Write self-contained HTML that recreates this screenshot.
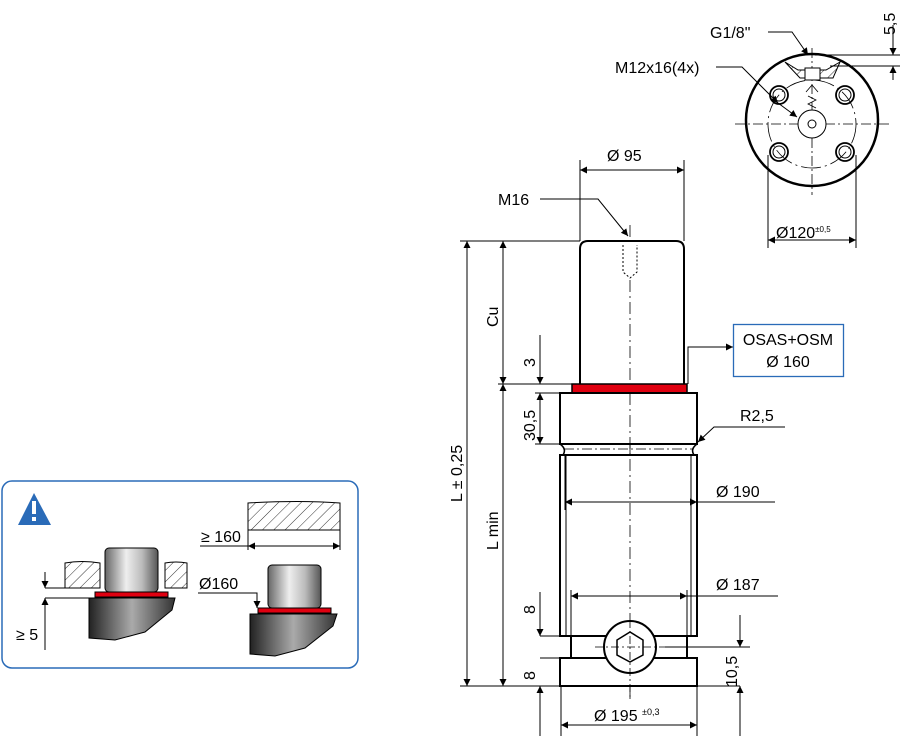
<!DOCTYPE html>
<html><head><meta charset="utf-8"><style>
html,body{margin:0;padding:0;background:#fff;}
svg{display:block;font-family:"Liberation Sans",sans-serif;}
</style></head><body>
<svg width="900" height="736" viewBox="0 0 900 736" xmlns="http://www.w3.org/2000/svg">
<defs>
<marker id="a" viewBox="0 0 10 10" refX="10" refY="5" markerWidth="10" markerHeight="7" orient="auto-start-reverse" markerUnits="userSpaceOnUse"><path d="M0,0 L10,5 L0,10z" fill="#000"/></marker>
<linearGradient id="g1" x1="0" x2="1"><stop offset="0" stop-color="#666"/><stop offset=".4" stop-color="#eee"/><stop offset=".7" stop-color="#bbb"/><stop offset="1" stop-color="#555"/></linearGradient>
<linearGradient id="g2" x1="0" x2="1"><stop offset="0" stop-color="#222"/><stop offset=".5" stop-color="#aaa"/><stop offset="1" stop-color="#333"/></linearGradient>
<pattern id="h" width="8" height="8" patternUnits="userSpaceOnUse" patternTransform="rotate(45)"><line x1="0" y1="0" x2="0" y2="8" stroke="#000" stroke-width="0.8"/></pattern>
</defs>
<g fill="none" stroke="#000" stroke-width="1">
<line x1="630" y1="225" x2="630" y2="700" stroke-dasharray="12,4,2,4" stroke-width="0.8"/>
<path d="M580,384 V249 Q580,241 588,241 H676 Q684,241 684,249 V384" stroke-width="2" fill="#fff"/>
<line x1="630" y1="280" x2="630" y2="384" stroke-dasharray="12,4,2,4" stroke-width="0.8"/>
<path d="M623,245 V272 L630,278 L637,272 V245" stroke-dasharray="2,2"/>
<rect x="572" y="384" width="115" height="9" fill="#e00010" stroke-width="1.5"/>
<rect x="560" y="393" width="137" height="51" stroke-width="2" fill="#fff"/>
<path d="M560,444 Q567,449 563,455 M697,444 Q690,449 694,455" stroke-width="1.5"/>
<line x1="564" y1="449" x2="693" y2="449" stroke-dasharray="10,3,2,3" stroke-width="0.8"/>
<rect x="560" y="455" width="137" height="181" stroke-width="2" fill="#fff"/>
<line x1="630" y1="393" x2="630" y2="636" stroke-dasharray="12,4,2,4" stroke-width="0.8"/>
<line x1="566" y1="455" x2="566" y2="636"/><line x1="691" y1="455" x2="691" y2="636"/>
<rect x="571" y="636" width="116" height="22" stroke-width="2" fill="#fff"/>
<rect x="560" y="658" width="137" height="28" stroke-width="2" fill="#fff"/>
<circle cx="630" cy="647" r="26" stroke-width="2" fill="#fff"/>
<path d="M630,632 L643,640 L643,655 L630,662 L617,655 L617,640z" stroke-width="1.5"/>
<line x1="595" y1="647" x2="665" y2="647" stroke-dasharray="8,3,2,3" stroke-width="0.8"/>
<line x1="630" y1="620" x2="630" y2="700" stroke-dasharray="8,3,2,3" stroke-width="0.8"/>
<line x1="580" y1="160" x2="580" y2="241"/><line x1="684" y1="160" x2="684" y2="241"/>
<line x1="580" y1="170" x2="684" y2="170" marker-start="url(#a)" marker-end="url(#a)"/>
<polyline points="540,199 598,199 628,236" marker-end="url(#a)"/>
<line x1="460" y1="241" x2="580" y2="241"/>
<line x1="498" y1="384" x2="572" y2="384"/>
<line x1="535" y1="393" x2="560" y2="393"/>
<line x1="535" y1="444" x2="560" y2="444"/>
<line x1="460" y1="686" x2="740" y2="686"/>
<line x1="467" y1="241" x2="467" y2="686" marker-start="url(#a)" marker-end="url(#a)"/>
<line x1="503" y1="241" x2="503" y2="384" marker-start="url(#a)" marker-end="url(#a)"/>
<line x1="503" y1="384" x2="503" y2="686" marker-start="url(#a)" marker-end="url(#a)"/>
<line x1="540" y1="335" x2="540" y2="384" marker-end="url(#a)"/>
<line x1="540" y1="393" x2="540" y2="444" marker-start="url(#a)" marker-end="url(#a)"/>
<line x1="540" y1="592" x2="540" y2="636" marker-end="url(#a)"/>
<line x1="540" y1="636" x2="571" y2="636"/><line x1="540" y1="658" x2="560" y2="658"/>
<line x1="540" y1="736" x2="540" y2="686" marker-end="url(#a)"/>
<line x1="565" y1="455" x2="565" y2="510"/><line x1="697" y1="500" x2="697" y2="510"/>
<line x1="565" y1="502" x2="697" y2="502" marker-start="url(#a)" marker-end="url(#a)"/>
<line x1="697" y1="502" x2="775" y2="502"/>
<line x1="571" y1="590" x2="571" y2="636"/><line x1="687" y1="590" x2="687" y2="636"/>
<line x1="571" y1="596" x2="687" y2="596" marker-start="url(#a)" marker-end="url(#a)"/>
<line x1="687" y1="596" x2="778" y2="596"/>
<line x1="561" y1="686" x2="561" y2="736"/><line x1="697" y1="686" x2="697" y2="736"/>
<line x1="561" y1="725" x2="697" y2="725" marker-start="url(#a)" marker-end="url(#a)"/>
<line x1="665" y1="647" x2="750" y2="647"/>
<line x1="740" y1="615" x2="740" y2="647" marker-end="url(#a)"/>
<line x1="740" y1="736" x2="740" y2="686" marker-end="url(#a)"/>
<polyline points="733,347 688,347 688,384" marker-start="url(#a)"/>
<polyline points="785,427 714,427 698,442" marker-end="url(#a)"/>
<circle cx="812" cy="120" r="66" stroke-width="2.5"/>
<line x1="735" y1="124" x2="890" y2="124" stroke-dasharray="10,3,2,3" stroke-width="0.8"/>
<line x1="812" y1="48" x2="812" y2="195" stroke-dasharray="10,3,2,3" stroke-width="0.8"/>
<circle cx="812" cy="124" r="44" stroke-dasharray="20,4,2,4" stroke-width="0.8"/>
<circle cx="779" cy="95" r="9" stroke-width="1.8"/><circle cx="779" cy="95" r="6"/>
<circle cx="845" cy="95" r="9" stroke-width="1.8"/><circle cx="845" cy="95" r="6"/>
<circle cx="779" cy="152" r="9" stroke-width="1.8"/><circle cx="779" cy="152" r="6"/>
<circle cx="845" cy="152" r="9" stroke-width="1.8"/><circle cx="845" cy="152" r="6"/>
<circle cx="812" cy="124" r="14" fill="#fff"/><circle cx="812" cy="124" r="4"/>
<path d="M785,62 L798,70 L826,70 L840,62 L833,78 L800,78 Z" fill="url(#h)"/>
<rect x="805" y="68" width="15" height="12" fill="#fff"/>
<path d="M806,92 L812,85 L818,92 M808,96 L816,100 L808,104 L816,108" stroke-width="0.8"/>
<line x1="768" y1="155" x2="768" y2="248"/><line x1="856" y1="155" x2="856" y2="248"/>
<line x1="768" y1="240" x2="856" y2="240" marker-start="url(#a)" marker-end="url(#a)"/>
<polyline points="768,32 792,32 808,55" marker-end="url(#a)"/>
<polyline points="716,67 742,67 778,103" marker-end="url(#a)"/>
<line x1="778" y1="103" x2="797" y2="117" marker-end="url(#a)"/>
<line x1="815" y1="55" x2="900" y2="55"/><line x1="830" y1="66" x2="900" y2="66"/>
<line x1="893" y1="25" x2="893" y2="55" marker-end="url(#a)"/>
<line x1="893" y1="80" x2="893" y2="66" marker-end="url(#a)"/>
</g>
<g font-size="16" fill="#000">
<text x="607" y="161">Ø 95</text>
<text x="498" y="205">M16</text>
<text x="710" y="38">G1/8"</text>
<text x="615" y="73">M12x16(4x)</text>
<text x="776" y="238">Ø120<tspan font-size="8" dy="-6">±0,5</tspan></text>
<text x="740" y="421">R2,5</text>
<text x="716" y="497">Ø 190</text>
<text x="716" y="590">Ø 187</text>
<text x="594" y="721">Ø 195 <tspan font-size="9" dy="-6">±0,3</tspan></text>
<text transform="translate(895,35) rotate(-90)">5,5</text>
<text transform="translate(737,687) rotate(-90)">10,5</text>
<text transform="translate(462,502) rotate(-90)">L ± 0,25</text>
<text transform="translate(498,550) rotate(-90)">L min</text>
<text transform="translate(498,327) rotate(-90)">Cu</text>
<text transform="translate(535,367) rotate(-90)">3</text>
<text transform="translate(535,441) rotate(-90)">30,5</text>
<text transform="translate(535,614) rotate(-90)">8</text>
<text transform="translate(535,680) rotate(-90)">8</text>
</g>
<rect x="733.5" y="324.5" width="110" height="52" fill="#fff" stroke="#2a6bb8" stroke-width="1.3"/>
<text x="788" y="345" font-size="16" text-anchor="middle" font-family="Liberation Sans,sans-serif">OSAS+OSM</text>
<text x="788" y="367" font-size="16" text-anchor="middle" font-family="Liberation Sans,sans-serif">Ø 160</text>
<rect x="2" y="481" width="356" height="187" rx="10" fill="#fff" stroke="#2a6bb8" stroke-width="1.5"/>
<path d="M18,525 L34,493 L51,525 Z" fill="#2a6bb8"/>
<rect x="32" y="501" width="4" height="13" fill="#fff"/><rect x="32" y="517" width="4" height="4" fill="#fff"/>
<g stroke="#000" stroke-width="1" fill="none">
<path d="M248,503 Q300,500 340,503 V530 H248 Z" fill="url(#h)"/>
<line x1="200" y1="546" x2="248" y2="546"/>
<line x1="248" y1="546" x2="340" y2="546" marker-start="url(#a)" marker-end="url(#a)"/>
<line x1="248" y1="530" x2="248" y2="550"/><line x1="340" y1="530" x2="340" y2="550"/>
<path d="M65,563 Q82,560 100,563 V588 H65 Z" fill="url(#h)"/>
<path d="M165,563 Q176,561 187,563 V588 H165 Z" fill="url(#h)"/>
<rect x="105" y="548" width="53" height="44" rx="4" fill="url(#g1)"/>
<rect x="95" y="592" width="73" height="5" fill="#e00010"/>
<path d="M89,598 H175 L172,610 L145,632 L115,640 L89,638 Z" fill="url(#g2)"/>
<line x1="45" y1="588" x2="100" y2="588"/><line x1="45" y1="598" x2="89" y2="598"/>
<line x1="45" y1="572" x2="45" y2="588" marker-end="url(#a)"/>
<line x1="45" y1="650" x2="45" y2="598" marker-end="url(#a)"/>
<rect x="268" y="565" width="53" height="43" rx="4" fill="url(#g1)"/>
<rect x="258" y="608" width="73" height="5" fill="#e00010"/>
<path d="M250,614 H337 L333,626 L305,648 L275,656 L250,654 Z" fill="url(#g2)"/>
<polyline points="198,593 257,593 257,608" marker-end="url(#a)" />
</g>
<g font-size="16" fill="#000" font-family="Liberation Sans,sans-serif">
<text x="201" y="542">≥ 160</text>
<text x="199" y="589">Ø160</text>
<text x="16" y="640">≥ 5</text>
</g>
</svg>
</body></html>
